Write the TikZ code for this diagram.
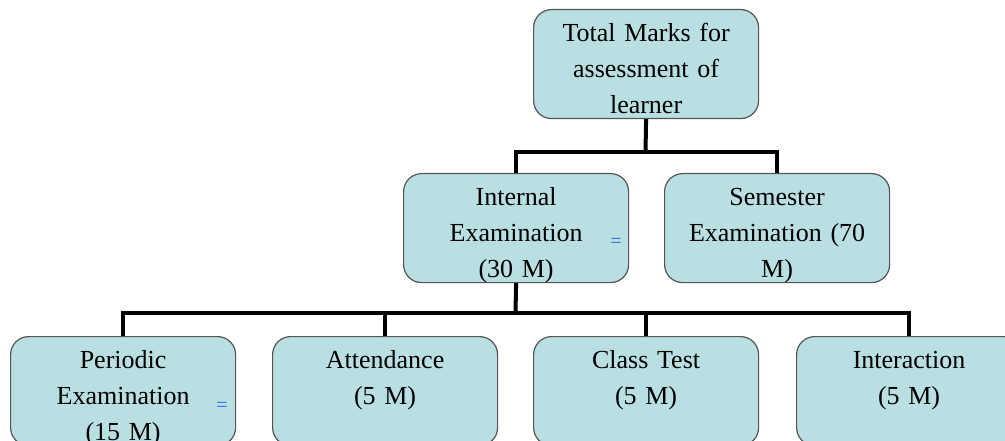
\documentclass[tikz,border=0pt]{standalone}
\usepackage{fontspec}
\setmainfont{Liberation Serif}
\usetikzlibrary{calc}
\definecolor{boxfill}{RGB}{185,223,227}
\definecolor{boxline}{RGB}{85,85,85}
\definecolor{markblue}{RGB}{50,100,230}
\newcommand\mybox[4]{%
  \node[box] (#1) at (#2,#3) {};
  \begin{scope}
    \clip[rounded corners=18pt] (#1.south west) rectangle (#1.north east);
    \node[boxtext] (#1-t) at ($(#1.north)+(0,7)$) {\strut #4};
  \end{scope}
}
\begin{document}
\begin{tikzpicture}[x=1pt,y=-1pt,
  box/.style={draw=boxline, line width=1.2pt, fill=boxfill, rounded corners=18pt,
    minimum width=225pt, minimum height=109pt, inner sep=0pt, anchor=north west},
  boxtext/.style={anchor=north, align=center, font=\fontsize{26}{36}\selectfont,
    inner sep=0pt, text width=220pt},
  wire/.style={line width=4pt, line join=miter},
  eqmark/.style={text=markblue, font=\fontsize{20}{20}\selectfont, inner sep=0pt}
]
\fill[white] (0,0) rectangle (1005,441);
\useasboundingbox (0,0) rectangle (1005,441);
\clip (0,0) rectangle (1005,441);

\mybox{top}{533}{9}{Total Marks for\\assessment of\\learner}
\mybox{int}{403}{173}{Internal\\Examination\\(30 M)}
\mybox{sem}{664}{173}{Semester\\Examination (70\\M)}
\mybox{per}{10}{336}{Periodic\\Examination\\(15 M)}
\mybox{att}{272}{336}{Attendance\\(5 M)}
\mybox{cls}{533}{336}{Class Test\\(5 M)}
\mybox{itr}{796}{336}{Interaction\\(5 M)}

\node[eqmark] (eq1) at (616,243) {=};
\node[eqmark] (eq2) at (222,407) {=};

\coordinate (j1) at (645.5,152);
\coordinate (j2) at (515.5,313);
\draw[wire] (top.south) -- (j1);
\draw[wire] (int.north) |- (j1) -| (sem.north);
\draw[wire] (int.south) -- (j2);
\draw[wire] (per.north) |- (j2) -| (itr.north);
\draw[wire] (att.north) -- (att.north |- j2);
\draw[wire] (cls.north) -- (cls.north |- j2);
\end{tikzpicture}
\end{document}
